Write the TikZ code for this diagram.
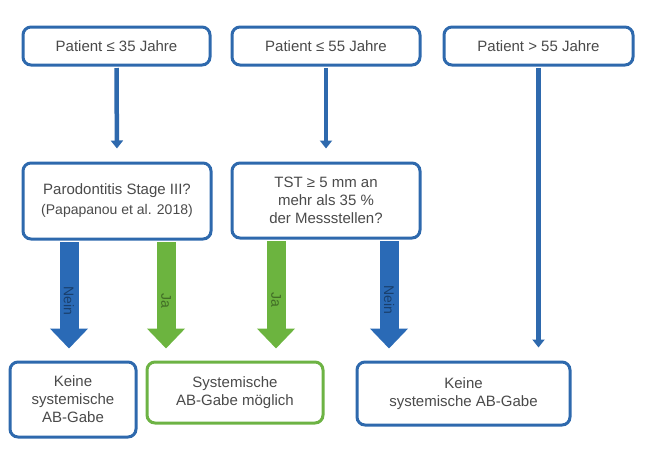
\documentclass[tikz,border=0pt]{standalone}
\usepackage{fontspec}
\setmainfont{Liberation Sans}
\usetikzlibrary{arrows.meta}
\definecolor{boxblue}{HTML}{2E69AD}
\definecolor{boxgreen}{HTML}{6DB344}
\definecolor{arrblue}{HTML}{2A6AB6}
\definecolor{arrgreen}{HTML}{6CB43F}
\definecolor{txtgray}{HTML}{4A4A4A}
\begin{document}
\begin{tikzpicture}[x=1pt,y=-1pt,
        box/.style={draw=boxblue, line width=3pt, rounded corners=8pt, fill=white,
            align=center, text=txtgray, inner sep=0pt, font=\fontsize{15}{18}\selectfont},
        gbox/.style={box, draw=boxgreen},
        thinarr/.style={draw=boxblue, line width=4.5pt, -{Triangle[width=12pt,length=8pt]}, shorten >=13pt, shorten <=1.5pt},
        fatarr/.style={line width=19pt, -{Triangle[width=37pt,length=20pt]}, shorten >=12pt, shorten <=1.5pt},
        lab/.style={midway, rotate=-90, text=black, text opacity=0.4, font=\fontsize{14}{16}\selectfont}]
    \useasboundingbox (0,0) rectangle (652,459);
    \node[box, minimum width=187, minimum height=38] (p35) at (116.5,46) {Patient ≤ 35 Jahre};
    \node[box, minimum width=188, minimum height=38] (p55) at (326,46) {Patient ≤ 55 Jahre};
    \node[box, minimum width=189, minimum height=38] (pg55) at (538.5,46) {Patient > 55 Jahre};
    \node[box, minimum width=188, minimum height=76] (stage) at (117,201)
        {Parodontitis Stage III?\\[2pt]{\fontsize{14}{17}\selectfont(Papapanou et al. 2018)}};
    \node[box, minimum width=188, minimum height=75] (tst) at (326,200.5)
        {TST ≥ 5 mm an\\mehr als 35 \%\\der Messstellen?};
    \node[box, minimum width=126, minimum height=75] (nein1) at (73,399.5) {Keine\\systemische\\AB-Gabe};
    \node[gbox, minimum width=176, minimum height=61] (ja) at (235,392.5) {Systemische\\AB-Gabe möglich};
    \node[box, minimum width=213, minimum height=63] (nein2) at (463.5,393.5) {Keine\\systemische AB-Gabe};
    \draw[thinarr] (p35.south) -- (stage.north);
    \draw[thinarr] (p55.south) -- (tst.north);
    \draw[thinarr] (pg55.south) -- (pg55.south |- nein2.north);
    \foreach \src/\dx/\dst/\col/\txt in {stage/-48/nein1/arrblue/Nein, stage/49/ja/arrgreen/Ja,
            tst/-50/ja/arrgreen/Ja, tst/63/nein2/arrblue/Nein}
        { \coordinate (s) at ([xshift=\dx pt]\src.south);
          \draw[fatarr, draw=\col] (s) -- (s |- \dst.north) node[lab]{\txt}; }
\end{tikzpicture}
\end{document}
